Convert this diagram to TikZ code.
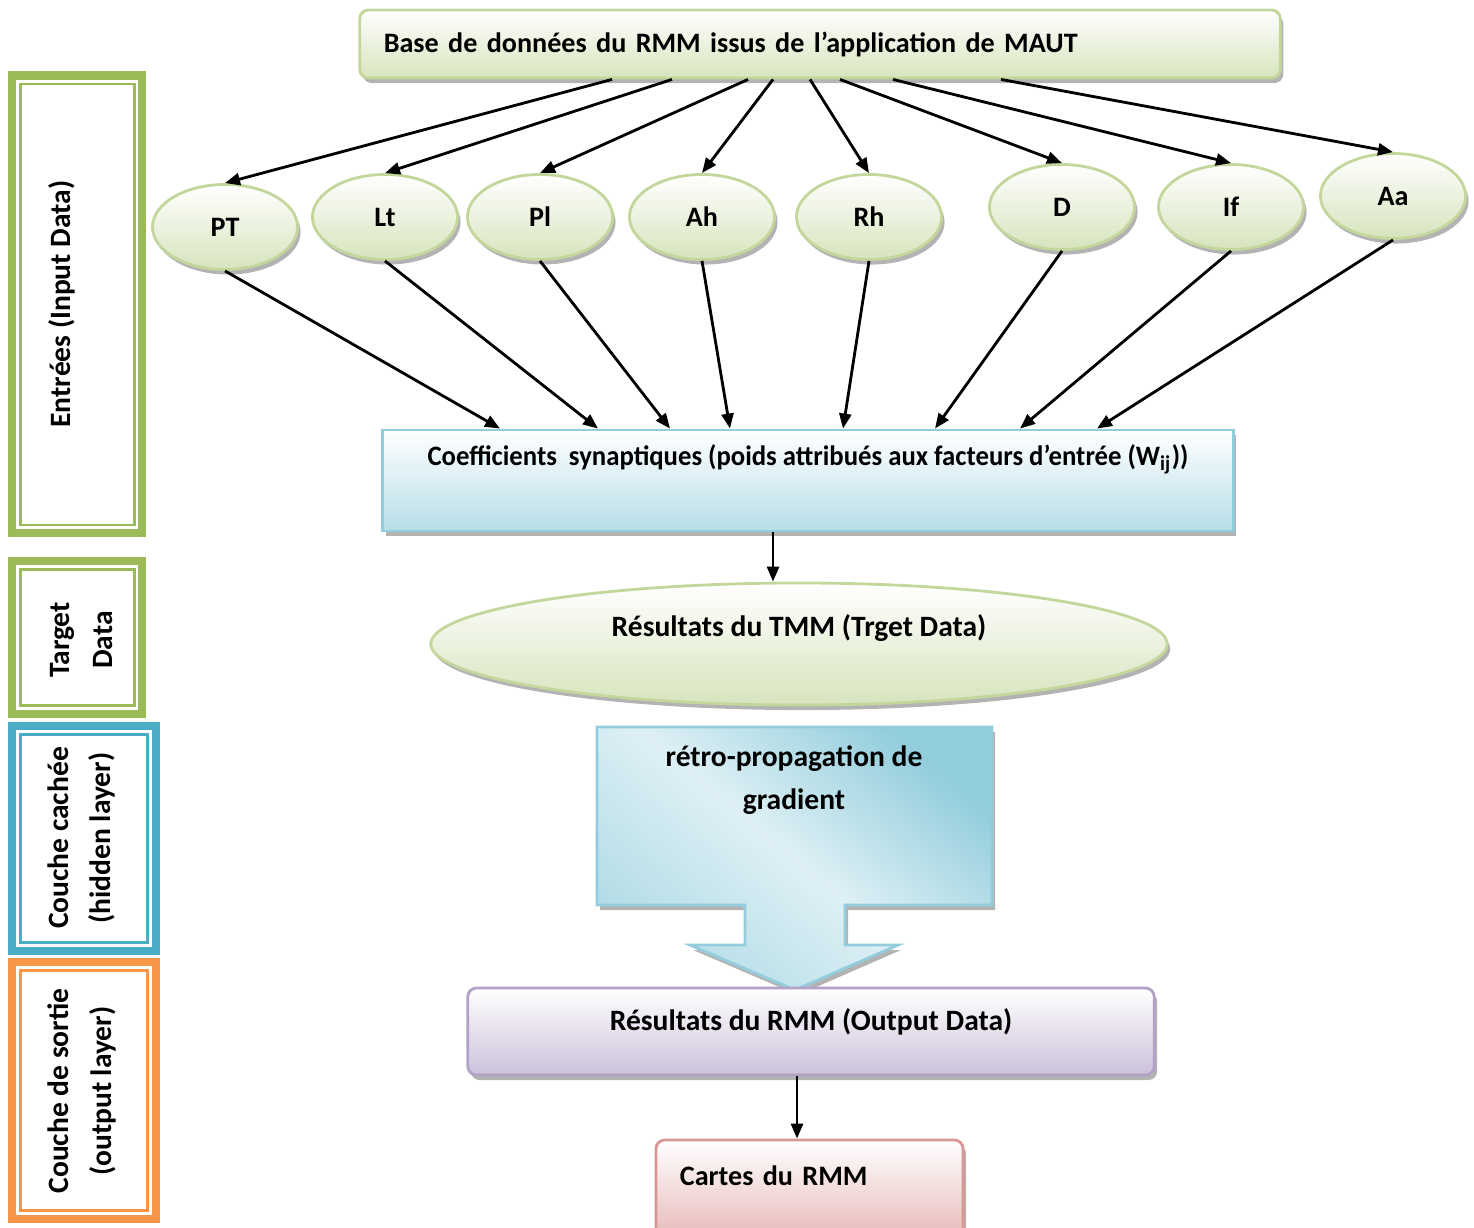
\documentclass[tikz,border=0pt]{standalone}
\usepackage{fontspec}
\setmainfont{Carlito}
\newfontfamily\condfont[FakeStretch=0.95]{Carlito}
\usetikzlibrary{arrows.meta,positioning,calc,shapes.geometric,shadows}
\definecolor{olgreen}{HTML}{9BBB59}
\definecolor{aqblue}{HTML}{4BACC6}
\definecolor{ororange}{HTML}{F79646}
\definecolor{grnline}{HTML}{C3D69B}
\definecolor{grnfill}{HTML}{D7E4BD}
\definecolor{coefline}{HTML}{93CDDD}
\definecolor{coeffill}{HTML}{B7DEE8}
\definecolor{calldark}{HTML}{92CDDC}
\definecolor{calllight}{HTML}{DEF0F5}
\definecolor{purpline}{HTML}{B3A2C7}
\definecolor{purpfill}{HTML}{CCC1DA}
\definecolor{redline}{HTML}{D99694}
\definecolor{redfill}{HTML}{E6B9B8}
\tikzset{
  lblfont/.style    = {font=\fontsize{8}{12.2}\selectfont\bfseries},
  bigfont/.style    = {font=\fontsize{8.4}{12.2}\selectfont\bfseries},
  shad/.style       = {drop shadow={shadow xshift=0.03cm, shadow yshift=-0.05cm, fill=black!50, opacity=0.6}},
  datum/.style      = {ellipse, draw=grnline, line width=0.8pt, top color=white, bottom color=grnfill,
                       minimum width=14.5mm, minimum height=8.5mm, inner sep=0pt, lblfont, shad},
  box/.style        = {rectangle, line width=0.8pt, inner sep=0pt, lblfont, shad},
  sig/.style        = {-{Triangle[length=1.5mm, width=1.2mm]}, line width=0.8pt},
  panelout/.style   = {line width=0.08cm},
  panelin/.style    = {line width=0.025cm},
  paneltxt/.style   = {bigfont, rotate=90, align=center},
}

\begin{document}
\begin{tikzpicture}[x=0.01cm, y=-0.01cm]
  \useasboundingbox (0,0) rectangle (1474,1227);
  % side panels
  \draw[panelout, olgreen] (12,75.5) rectangle (142,533);
  \draw[panelin, olgreen] (20.5,84) rectangle (134.5,525);
  \node[paneltxt] (entrees) at (62,304) {Entrées (Input Data)};
  \draw[panelout, olgreen] (12,561) rectangle (142,714);
  \draw[panelin, olgreen] (20.5,569.5) rectangle (134.5,705.5);
  \node[paneltxt] (target) at (81.5,640) {Target\\Data};
  \draw[panelout, aqblue] (12,726) rectangle (156,951);
  \draw[panelin, aqblue] (20.5,734.5) rectangle (147.5,942.5);
  \node[paneltxt] (cachee) at (81.5,838) {Couche cachée\\(hidden layer)};
  \draw[panelout, ororange] (12,962) rectangle (156,1219);
  \draw[panelin, ororange] (20.5,970.5) rectangle (147.5,1210.5);
  \node[paneltxt] (sortie) at (81.5,1091) {Couche de sortie\\(output layer)};
  % data base
  \node[box, draw=grnline, rounded corners=2.5pt, top color=white, bottom color=grnfill,
        minimum width=92mm, minimum height=6.8mm, text width=87.2mm, inner xsep=2.4mm, align=left]
        (base) at (820,44) {Base de données du RMM issus de l’application de MAUT};
  % input factors
  \node[datum] (pt) at (225,227) {PT};
  \node[datum] (lt) at (385,217) {Lt};
  \node[datum] (pl) at (540,217) {Pl};
  \node[datum] (ah) at (702,217) {Ah};
  \node[datum] (rh) at (869,217) {Rh};
  \node[datum] (d)  at (1062,207) {D};
  \node[datum] (if) at (1231,207) {If};
  \node[datum] (aa) at (1393,196) {Aa};
  % synaptic weights
  \node[box, draw=coefline, top color=white, bottom color=coeffill, minimum width=85mm,
        text height=3.5mm, text depth=6.6mm] (coef) at (808,480.5)
        {\condfont Coefficients\ \ synaptiques (poids attribués aux facteurs d’entrée (W\textsubscript{ij}))};
  % target data
  \node[ellipse, draw=grnline, line width=0.8pt, top color=white, bottom color=grnfill,
        minimum width=73.6mm, minimum height=12.2mm, inner sep=0pt, bigfont, shad,
        text height=2mm, text depth=3.6mm] (tmm) at (799,644) {Résultats du TMM (Trget Data)};
  % back-propagation callout
  \draw[draw=coefline, line width=0.8pt, shad, top color=calldark, bottom color=calldark!70,
        middle color=calllight, shading angle=-40]
    (597,727) -- (992,727) -- (992,905) -- (845,905) -- (845,945) -- (898,945) -- (795,990)
    -- (690,945) -- (745,945) -- (745,905) -- (597,905) -- cycle;
  \node[bigfont, align=center] (retro) at (794,780) {rétro-propagation de\\gradient};
  % outputs
  \node[box, bigfont, draw=purpline, rounded corners=2.5pt, top color=white, bottom color=purpfill,
        minimum width=68.6mm, text height=4.2mm, text depth=4.5mm] (output) at (811,1031.5)
        {Résultats du RMM (Output Data)};
  \node[box, draw=redline, rounded corners=2.5pt, top color=white, bottom color=redfill,
        minimum width=30.7mm, text width=25.9mm, inner xsep=2.4mm, align=left,
        text height=4.5mm, text depth=5.5mm] (cartes) at (809.5,1190) {Cartes du RMM};
  % connectors from the data base
  \draw[sig] (base.south -| 612,0) -- (pt.north);
  \draw[sig] (base.south -| 672,0) -- (lt.north);
  \draw[sig] (base.south -| 748,0) -- (pl.north);
  \draw[sig] (base.south -| 773,0) -- (ah.north);
  \draw[sig] (base.south -| 810,0) -- (rh.north);
  \draw[sig] (base.south -| 840,0) -- (d.north);
  \draw[sig] (base.south -| 893,0) -- (if.north);
  \draw[sig] (base.south -| 1001,0) -- (aa.north);
  % connectors to the weights
  \draw[sig] (pt.south) -- (coef.north -| 500,0);
  \draw[sig] (lt.south) -- (coef.north -| 598,0);
  \draw[sig] (pl.south) -- (coef.north -| 670,0);
  \draw[sig] (ah.south) -- (coef.north -| 730,0);
  \draw[sig] (rh.south) -- (coef.north -| 843,0);
  \draw[sig] (d.south)  -- (coef.north -| 935,0);
  \draw[sig] (if.south) -- (coef.north -| 1020,0);
  \draw[sig] (aa.south) -- (coef.north -| 1097,0);
  \draw[sig] (coef.south -| 773,0) -- (773,0 |- tmm.north);
  \draw[sig] (output.south -| 797,0) -- (797,0 |- cartes.north);
\end{tikzpicture}
\end{document}
